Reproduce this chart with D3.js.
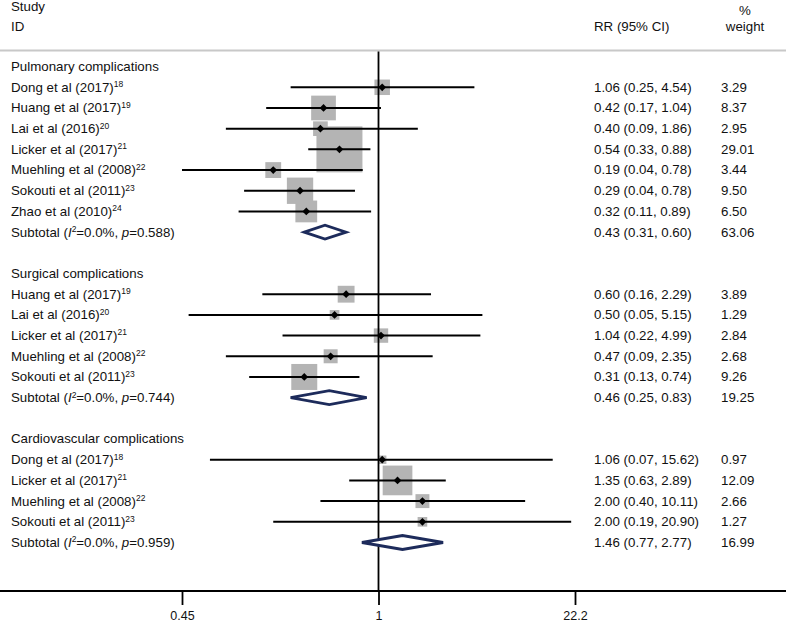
<!DOCTYPE html>
<html>
<head>
<meta charset="utf-8">
<script src="https://cdn.jsdelivr.net/npm/d3@7"></script>
<style>
  body { margin: 0; background: #fff; }
  svg { display: block; font-family: 'Liberation Sans', Arial, sans-serif; font-size: 13.3px; }
</style>
</head>
<body>
<svg id="chart" width="786" height="623"></svg>
<script>
'use strict'

const groups = ['Pulmonary complications', 'Surgical complications', 'Cardiovascular complications']
const groupOf = [0, 0, 0, 0, 0, 0, 0, 1, 1, 1, 1, 1, 2, 2, 2, 2]
const authors = [
  'Dong et al (2017)', 'Huang et al (2017)', 'Lai et al (2016)', 'Licker et al (2017)',
  'Muehling et al (2008)', 'Sokouti et al (2011)', 'Zhao et al (2010)',
  'Huang et al (2017)', 'Lai et al (2016)', 'Licker et al (2017)', 'Muehling et al (2008)', 'Sokouti et al (2011)',
  'Dong et al (2017)', 'Licker et al (2017)', 'Muehling et al (2008)', 'Sokouti et al (2011)'
]
const refs = ['18', '19', '20', '21', '22', '23', '24', '19', '20', '21', '22', '23', '18', '21', '22', '23']
const rr = [1.06, 0.42, 0.40, 0.54, 0.19, 0.29, 0.32, 0.60, 0.50, 1.04, 0.47, 0.31, 1.06, 1.35, 2.00, 2.00]
// lines as drawn in the picture
const lower = [0.25, 0.17, 0.09, 0.33, 0.04, 0.12, 0.11, 0.16, 0.05, 0.22, 0.09, 0.13, 0.07, 0.63, 0.40, 0.19]
const upper = [4.54, 1.04, 1.86, 0.88, 0.78, 0.69, 0.89, 2.29, 5.15, 4.99, 2.35, 0.74, 15.62, 2.89, 10.11, 20.90]
// column text as printed
const ciText = [
  '1.06 (0.25, 4.54)', '0.42 (0.17, 1.04)', '0.40 (0.09, 1.86)', '0.54 (0.33, 0.88)',
  '0.19 (0.04, 0.78)', '0.29 (0.04, 0.78)', '0.32 (0.11, 0.89)',
  '0.60 (0.16, 2.29)', '0.50 (0.05, 5.15)', '1.04 (0.22, 4.99)', '0.47 (0.09, 2.35)', '0.31 (0.13, 0.74)',
  '1.06 (0.07, 15.62)', '1.35 (0.63, 2.89)', '2.00 (0.40, 10.11)', '2.00 (0.19, 20.90)'
]
const weight = [3.29, 8.37, 2.95, 29.01, 3.44, 9.50, 6.50, 3.89, 1.29, 2.84, 2.68, 9.26, 0.97, 12.09, 2.66, 1.27]

const subRR = [0.43, 0.46, 1.46]
const subLower = [0.31, 0.25, 0.77]
const subUpper = [0.60, 0.83, 2.77]
const subWeight = [63.06, 19.25, 16.99]
const subI2 = ['0.0%', '0.0%', '0.0%']
const subP = ['0.588', '0.744', '0.959']

const tickValues = [1 / 22.2, 1, 22.2]
const tickLabels = ['0.45', '1', '22.2']

const W = 786
const svg = d3.select('#chart')

// build row layout: header, studies, subtotal, blank
const rows = []
let k = 0
groups.forEach((g, gi) => {
  rows.push({type: 'header', label: g, row: k++})
  groupOf.forEach((grp, i) => {
    if (grp === gi) rows.push({type: 'study', i, row: k++})
  })
  rows.push({type: 'subtotal', gi, row: k++})
  k++
})

const y = d3.scaleLinear().domain([0, 23]).range([66.6, 542.5])
const x = d3.scaleLog().domain([1 / 22.2, 22.2]).range([182, 575]).clamp(true)
const box = d3.scaleSqrt().domain([0, 29.01]).range([0, 46])
const axisY = 591

const studies = rows.filter(r => r.type === 'study')
const subs = rows.filter(r => r.type === 'subtotal')

// header rule
svg.append('line')
  .attr('x1', 0).attr('x2', W)
  .attr('y1', 50.5).attr('y2', 50.5)
  .attr('stroke', '#c8c8c8').attr('stroke-width', 2)

// weight boxes
svg.append('g').selectAll('rect')
  .data(studies)
  .join('rect')
  .attr('x', r => x(rr[r.i]) - box(weight[r.i]) / 2)
  .attr('y', r => y(r.row) - box(weight[r.i]) / 2)
  .attr('width', r => box(weight[r.i]))
  .attr('height', r => box(weight[r.i]))
  .attr('fill', '#b4b4b4')

// null line
svg.append('line')
  .attr('x1', x(1)).attr('x2', x(1))
  .attr('y1', 51.5).attr('y2', axisY)
  .attr('stroke', '#000').attr('stroke-width', 1.8)

// confidence intervals
svg.append('g').selectAll('line')
  .data(studies)
  .join('line')
  .attr('x1', r => x(lower[r.i]))
  .attr('x2', r => x(upper[r.i]))
  .attr('y1', r => y(r.row))
  .attr('y2', r => y(r.row))
  .attr('stroke', '#000').attr('stroke-width', 2)

// point estimates
svg.append('g').selectAll('path')
  .data(studies)
  .join('path')
  .attr('d', d3.symbol(d3.symbolSquare, 30))
  .attr('transform', r => `translate(${x(rr[r.i])},${y(r.row)}) rotate(45)`)
  .attr('fill', '#000')

// subtotal diamonds
svg.append('g').selectAll('path')
  .data(subs)
  .join('path')
  .attr('d', r => {
    const cy = y(r.row), h = 7
    return `M${x(subLower[r.gi])},${cy}L${x(subRR[r.gi])},${cy - h}L${x(subUpper[r.gi])},${cy}L${x(subRR[r.gi])},${cy + h}Z`
  })
  .attr('fill', '#fff')
  .attr('stroke', '#1d2b5b').attr('stroke-width', 2.8)

// axis
svg.append('line')
  .attr('x1', 0).attr('x2', W)
  .attr('y1', axisY).attr('y2', axisY)
  .attr('stroke', '#000').attr('stroke-width', 1.8)

const axis = svg.append('g')
  .attr('transform', `translate(0,${axisY})`)
  .call(d3.axisBottom(x)
    .tickValues(tickValues)
    .tickFormat((d, i) => tickLabels[i])
    .tickSize(14)
    .tickPadding(6))
axis.select('.domain').remove()
axis.selectAll('.tick line').attr('stroke', '#000').attr('stroke-width', 1.8)
axis.selectAll('.tick text')
  .attr('font-family', "'Liberation Sans', Arial, sans-serif")
  .attr('font-size', 12.5)
  .attr('fill', '#111')

// column headers
const head = svg.append('g').attr('fill', '#111')
head.append('text').attr('x', 11).attr('y', 11).text('Study')
head.append('text').attr('x', 11).attr('y', 31).text('ID')
head.append('text').attr('x', 594).attr('y', 31).text('RR (95% CI)')
head.append('text').attr('x', 745).attr('y', 15).attr('text-anchor', 'middle').text('%')
head.append('text').attr('x', 745).attr('y', 31).attr('text-anchor', 'middle').text('weight')

// row labels
const labels = svg.append('g').attr('fill', '#111')
labels.selectAll('text.label')
  .data(rows)
  .join('text')
  .attr('class', 'label')
  .attr('x', 11)
  .attr('y', r => y(r.row))
  .attr('dy', '0.33em')
  .each((r, i, ns) => {
    const t = d3.select(ns[i])
    if (r.type === 'header') {
      t.text(r.label)
    } else if (r.type === 'study') {
      t.append('tspan').text(authors[r.i])
      t.append('tspan').attr('font-size', 8.5).attr('dy', -4.5).text(refs[r.i])
    } else {
      t.append('tspan').text('Subtotal (')
      t.append('tspan').attr('font-style', 'italic').text('I')
      t.append('tspan').attr('font-size', 8.5).attr('dy', -4.5).text('2')
      t.append('tspan').attr('dy', 4.5).text(`=${subI2[r.gi]}, `)
      t.append('tspan').attr('font-style', 'italic').text('p')
      t.append('tspan').text(`=${subP[r.gi]})`)
    }
  })

// estimate and weight columns
const valueRows = rows.filter(r => r.type !== 'header')
labels.selectAll('text.ci')
  .data(valueRows)
  .join('text')
  .attr('class', 'ci')
  .attr('x', 594)
  .attr('y', r => y(r.row))
  .attr('dy', '0.33em')
  .text(r => r.type === 'study' ? ciText[r.i]
    : `${subRR[r.gi].toFixed(2)} (${subLower[r.gi].toFixed(2)}, ${subUpper[r.gi].toFixed(2)})`)

labels.selectAll('text.wt')
  .data(valueRows)
  .join('text')
  .attr('class', 'wt')
  .attr('x', 721)
  .attr('y', r => y(r.row))
  .attr('dy', '0.33em')
  .text(r => (r.type === 'study' ? weight[r.i] : subWeight[r.gi]).toFixed(2))
</script>
</body>
</html>
